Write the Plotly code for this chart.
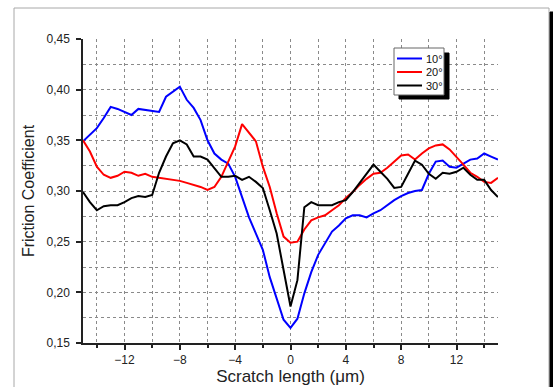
import plotly.graph_objects as go

# Scratch length (µm)
x_um = [-15.0, -14.5, -14.0, -13.5, -13.0, -12.5, -12.0, -11.5, -11.0, -10.5,
        -10.0, -9.5, -9.0, -8.5, -8.0, -7.5, -7.0, -6.5, -6.0, -5.5,
        -5.0, -4.5, -4.0, -3.5, -3.0, -2.5, -2.0, -1.5, -1.0, -0.5,
        0.0, 0.5, 1.0, 1.5, 2.0, 2.5, 3.0, 3.5, 4.0, 4.5,
        5.0, 5.5, 6.0, 6.5, 7.0, 7.5, 8.0, 8.5, 9.0, 9.5,
        10.0, 10.5, 11.0, 11.5, 12.0, 12.5, 13.0, 13.5, 14.0, 14.5, 15.0]

mu_10deg = [0.349, 0.356, 0.362, 0.372, 0.383, 0.381, 0.378, 0.375, 0.381, 0.380,
            0.379, 0.378, 0.393, 0.398, 0.403, 0.390, 0.382, 0.370, 0.350, 0.337,
            0.331, 0.327, 0.314, 0.294, 0.274, 0.258, 0.242, 0.215, 0.193, 0.173,
            0.165, 0.174, 0.199, 0.220, 0.237, 0.249, 0.260, 0.266, 0.273, 0.276,
            0.276, 0.274, 0.278, 0.281, 0.286, 0.291, 0.295, 0.298, 0.300, 0.301,
            0.317, 0.329, 0.330, 0.324, 0.323, 0.327, 0.331, 0.332, 0.337, 0.334, 0.331]

mu_20deg = [0.350, 0.339, 0.324, 0.316, 0.313, 0.315, 0.319, 0.318, 0.315, 0.317,
            0.314, 0.313, 0.312, 0.311, 0.310, 0.308, 0.306, 0.304, 0.301, 0.304,
            0.314, 0.329, 0.344, 0.366, 0.358, 0.349, 0.324, 0.304, 0.278, 0.255,
            0.249, 0.250, 0.262, 0.271, 0.274, 0.276, 0.281, 0.286, 0.293, 0.299,
            0.306, 0.312, 0.317, 0.318, 0.323, 0.329, 0.335, 0.336, 0.331, 0.337,
            0.342, 0.345, 0.346, 0.341, 0.334, 0.326, 0.318, 0.314, 0.309, 0.308, 0.313]

mu_30deg = [0.299, 0.289, 0.281, 0.285, 0.286, 0.286, 0.289, 0.293, 0.295, 0.294,
            0.296, 0.318, 0.334, 0.347, 0.350, 0.346, 0.334, 0.334, 0.331, 0.322,
            0.314, 0.314, 0.315, 0.311, 0.314, 0.309, 0.303, 0.281, 0.258, 0.222,
            0.186, 0.212, 0.284, 0.289, 0.286, 0.286, 0.286, 0.289, 0.291, 0.299,
            0.308, 0.318, 0.326, 0.319, 0.312, 0.303, 0.304, 0.317, 0.330, 0.326,
            0.317, 0.312, 0.318, 0.317, 0.319, 0.323, 0.316, 0.311, 0.311, 0.301, 0.294]

series_names = ["10°", "20°", "30°"]
series_colors = ["#0000ff", "#ff0000", "#000000"]

x_ticks = [-12, -8, -4, 0, 4, 8, 12]
y_ticks = [0.15, 0.20, 0.25, 0.30, 0.35, 0.40, 0.45]

fig = go.Figure()
for name, ys, col in zip(series_names, [mu_10deg, mu_20deg, mu_30deg], series_colors):
    fig.add_trace(go.Scatter(x=x_um, y=ys, mode="lines", name=name,
                             line=dict(color=col, width=2), showlegend=False,
                             hoverinfo="skip"))

FONT = "Liberation Sans, Arial, sans-serif"
W, H = 553, 387
L, R, T, B = 83, 55, 39, 44
pw, ph = W - L - R, H - T - B

def px(xp):
    return (xp - L) / pw

def py(yp):
    return (H - B - yp) / ph

gcol = "#8a8a8a"

shapes = [
    # page frame
    dict(type="rect", xref="paper", yref="paper", x0=px(14), x1=px(549),
         y0=py(395), y1=py(8), line=dict(color="#a8a8a8", width=1),
         layer="above"),
    # page drop shadow
    dict(type="rect", xref="paper", yref="paper", x0=px(550), x1=px(556),
         y0=py(395), y1=py(12), line=dict(color="#000000", width=1),
         fillcolor="#000000", layer="above"),
    # legend shadow
    dict(type="rect", xref="paper", yref="paper", x0=px(399), x1=px(449),
         y0=py(99), y1=py(53), line=dict(color="#000000", width=1),
         fillcolor="#000000", layer="above"),
    # legend box
    dict(type="rect", xref="paper", yref="paper", x0=px(394), x1=px(444),
         y0=py(95), y1=py(48), line=dict(color="#666666", width=1),
         fillcolor="#ffffff", layer="above"),
]
annotations = []
for i, (name, col) in enumerate(zip(series_names, series_colors)):
    yy = 58.5 + i * 13.5
    shapes.append(dict(type="line", xref="paper", yref="paper",
                       x0=px(397), x1=px(422), y0=py(yy), y1=py(yy),
                       line=dict(color=col, width=2), layer="above"))
    annotations.append(dict(xref="paper", yref="paper", x=px(424), y=py(yy),
                            xanchor="left", yanchor="middle", showarrow=False,
                            text=name, font=dict(family=FONT, size=11, color="#111")))

fig.update_layout(
    width=W, height=H,
    margin=dict(l=L, r=R, t=T, b=B, pad=0, autoexpand=False),
    paper_bgcolor="white", plot_bgcolor="white",
    separators=", ",
    font=dict(family=FONT, size=12, color="#222"),
    showlegend=False,
    hovermode=False,
    xaxis=dict(range=[-15, 15], tickvals=x_ticks, ticks="outside", ticklen=5,
               tickwidth=1.5, tickcolor="#222", showline=True, linewidth=1.5,
               linecolor="#222", zeroline=False, showgrid=True, automargin=False,
               gridcolor=gcol, griddash="dot", gridwidth=1,
               minor=dict(dtick=2, tick0=0, ticks="outside", ticklen=3,
                          tickcolor="#222", showgrid=True, gridcolor=gcol,
                          griddash="dot", gridwidth=1),
               tickfont=dict(size=12), ticklabelstandoff=0,
               title=dict(text="Scratch length (μm)", font=dict(size=17, color="#222"),
                          standoff=1)),
    yaxis=dict(range=[0.15, 0.45], tickvals=y_ticks, tickformat=".2f",
               ticks="outside", ticklen=5, tickwidth=1.5, tickcolor="#222",
               showline=True, linewidth=1.5, linecolor="#222", zeroline=False,
               showgrid=True, gridcolor=gcol, griddash="dot", gridwidth=1,
               automargin=False,
               minor=dict(dtick=0.025, tick0=0, ticks="", showgrid=True,
                          gridcolor=gcol, griddash="dot", gridwidth=1),
               tickfont=dict(size=12), ticklabelstandoff=4,
               title=dict(text="Friction Coefficient", font=dict(size=16, color="#222"),
                          standoff=8)),
    shapes=shapes,
    annotations=annotations,
)

fig.write_html("out.html", config={"displayModeBar": False},
               post_script="document.body.style.margin='0';document.body.style.overflow='hidden';")
